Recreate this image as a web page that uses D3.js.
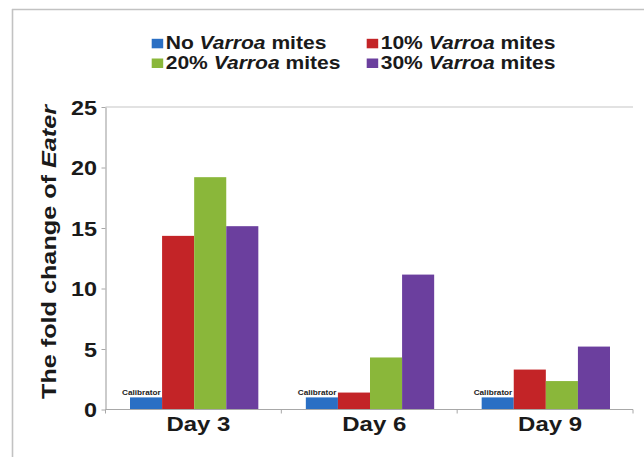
<!DOCTYPE html>
<html><head><meta charset="utf-8">
<script src="https://cdn.jsdelivr.net/npm/d3@7"></script>
<style>
html,body{margin:0;padding:0;background:#fff;}
svg{display:block;font-family:"Liberation Sans",Arial,sans-serif;}
</style></head>
<body>
<svg id="chart" width="644" height="457"></svg>
<script>
const days = ["Day 3", "Day 6", "Day 9"];
const seriesNames = ["No", "10%", "20%", "30%"];
const seriesColors = ["#2a6fc4", "#c32427", "#8ab73a", "#6b3f9e"];
const noMites = [1, 1, 1];
const mites10 = [14.35, 1.4, 3.3];
const mites20 = [19.2, 4.3, 2.35];
const mites30 = [15.15, 11.15, 5.2];
const seriesValues = [noMites, mites10, mites20, mites30];
const yTicks = [0, 5, 10, 15, 20, 25];
const calibratorLabel = "Calibrator";

const SX = 1.17;
const svg = d3.select("#chart");
svg.append("rect").attr("width",644).attr("height",457).attr("fill","#fff");

// frame
svg.append("line").attr("x1",12).attr("x2",644).attr("y1",9.5).attr("y2",9.5)
  .attr("stroke","#c2c2c2").attr("stroke-width",1.6);
svg.append("line").attr("x1",12.5).attr("x2",12.5).attr("y1",9).attr("y2",457)
  .attr("stroke","#c2c2c2").attr("stroke-width",1.6);

const x0 = d3.scaleBand().domain(days).range([105.5, 633]).padding(0);
const bw = x0.bandwidth();
const x1 = d3.scaleBand().domain(seriesNames).range([24.5, bw - 23]).padding(0);
const y = d3.scaleLinear().domain([0, 25]).range([409.5, 107]);

// top gridline
svg.append("line").attr("x1",x0.range()[0]).attr("x2",x0.range()[1])
  .attr("y1",y(25)).attr("y2",y(25)).attr("stroke","#c6c6c6").attr("stroke-width",1.2);

// bars
const data = [];
days.forEach((d,i)=>seriesNames.forEach((s,j)=>data.push({day:d, s:s, j:j, v:seriesValues[j][i]})));
svg.append("g").selectAll("rect").data(data).enter().append("rect")
  .attr("x", d=>x0(d.day)+x1(d.s))
  .attr("y", d=>y(d.v))
  .attr("width", x1.bandwidth())
  .attr("height", d=>y(0)-y(d.v))
  .attr("fill", d=>seriesColors[d.j]);

// calibrator labels
svg.append("g").selectAll("text").data(days).enter().append("text")
  .attr("transform", d=>`translate(${x0(d)+x1(seriesNames[0])-8},${y(noMites[0])-2}) scale(${SX},1)`)
  .attr("font-size",7).attr("font-weight","bold").attr("fill","#222")
  .text(calibratorLabel);

// y axis
const yAxis = svg.append("g").attr("transform",`translate(${x0.range()[0]},0)`)
  .call(d3.axisLeft(y).tickValues(yTicks).tickSize(4).tickSizeOuter(0).tickPadding(9));
yAxis.select(".domain").attr("stroke","#a8a8a8").attr("stroke-width",1.2);
yAxis.selectAll(".tick line").attr("stroke","#a8a8a8");
yAxis.selectAll(".tick text")
  .attr("x",null).attr("dy","0.36em")
  .attr("transform",`translate(-8.5,0) scale(${SX},1)`)
  .attr("font-size",20).attr("font-weight","bold").attr("fill","#1a1a1a")
  .attr("font-family","'Liberation Sans',Arial,sans-serif");

// x axis
svg.append("line").attr("x1",x0.range()[0]).attr("x2",x0.range()[1])
  .attr("y1",y(0)).attr("y2",y(0)).attr("stroke","#a8a8a8").attr("stroke-width",1.2);
const bounds = days.map(d=>x0(d)).concat([x0.range()[1]]);
svg.append("g").selectAll("line").data(bounds).enter().append("line")
  .attr("x1",d=>d).attr("x2",d=>d).attr("y1",y(0)).attr("y2",y(0)+4)
  .attr("stroke","#a8a8a8");
svg.append("g").selectAll("text").data(days).enter().append("text")
  .attr("transform", d=>`translate(${x0(d)+bw/2+5},430.5) scale(${SX},1)`)
  .attr("text-anchor","middle").attr("font-size",20.5).attr("font-weight","bold").attr("fill","#1a1a1a")
  .text(d=>d);

// y title
const yt = svg.append("text")
  .attr("transform","translate(56,252) rotate(-90) scale(1.2,1)")
  .attr("text-anchor","middle").attr("font-size",21).attr("font-weight","bold").attr("fill","#1a1a1a");
yt.append("tspan").text("The fold change of ");
yt.append("tspan").attr("font-style","italic").text("Eater");

// legend
const legPos = [[151.7,49.3],[366.7,49.3],[151.7,69],[366.7,69]];
const leg = svg.append("g").selectAll("g").data(seriesNames).enter().append("g");
leg.append("rect")
  .attr("x",(d,i)=>legPos[i][0]).attr("y",(d,i)=>legPos[i][1]-10.5)
  .attr("width",11.5).attr("height",9.5).attr("fill",(d,i)=>seriesColors[i]);
const lt = leg.append("text")
  .attr("transform",(d,i)=>`translate(${legPos[i][0]+14},${legPos[i][1]}) scale(${SX},1)`)
  .attr("font-size",18).attr("font-weight","bold").attr("fill","#1a1a1a");
lt.append("tspan").text(d=>d+" ");
lt.append("tspan").attr("font-style","italic").text("Varroa");
lt.append("tspan").text(" mites");
</script>
</body></html>
